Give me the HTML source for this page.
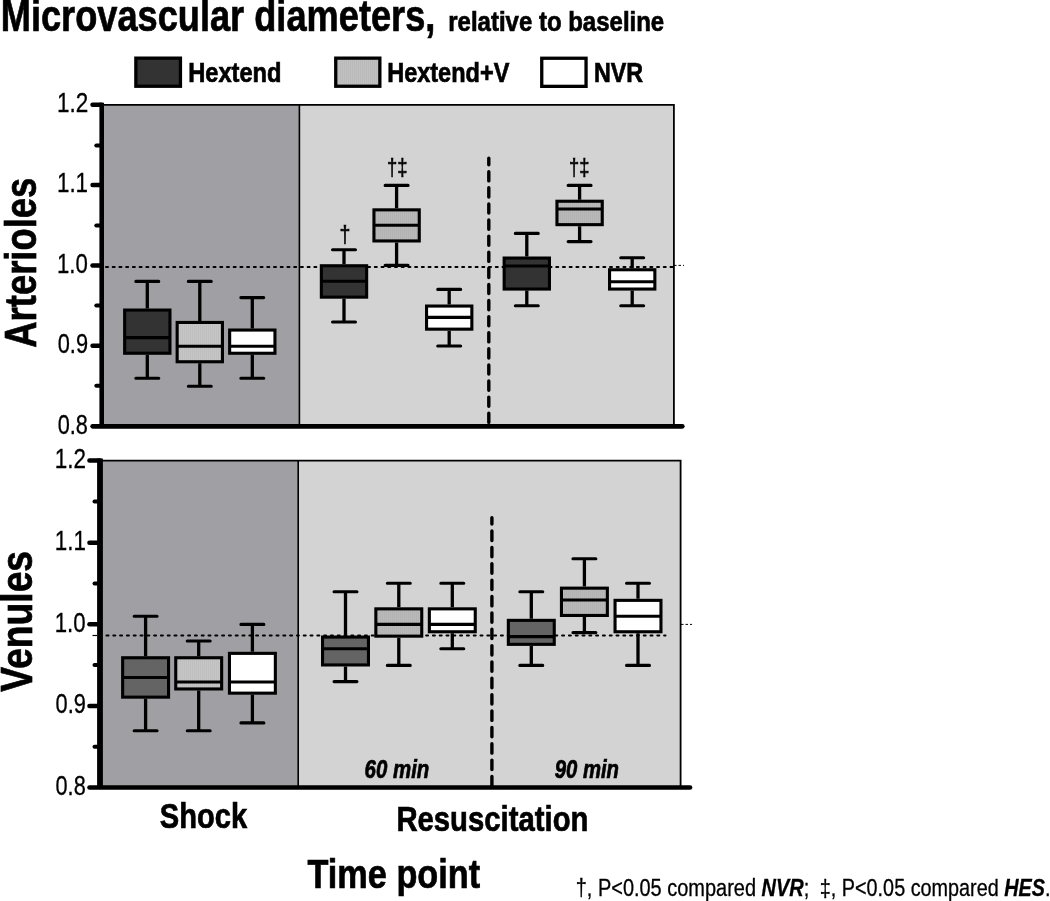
<!DOCTYPE html>
<html lang="en"><head><meta charset="utf-8"><title>Microvascular diameters</title>
<style>
html,body{margin:0;padding:0;background:#fff;}
body{width:1050px;height:901px;overflow:hidden;}
svg{display:block;font-family:"Liberation Sans", Arial, sans-serif;fill:#000;}
</style></head><body>
<svg width="1050" height="901" viewBox="0 0 1050 901">
<defs>
<pattern id="hv" width="2" height="2" patternUnits="userSpaceOnUse"><rect width="2" height="2" fill="#b9b9b9"/><rect width="1" height="2" fill="#b3b3b3"/></pattern>
<pattern id="hl" width="2" height="2" patternUnits="userSpaceOnUse"><rect width="2" height="2" fill="#c0c0c0"/><rect width="1" height="2" fill="#bababa"/></pattern>
<pattern id="hs" width="2" height="2" patternUnits="userSpaceOnUse"><rect width="2" height="2" fill="#c5c5c5"/><rect width="1" height="2" fill="#bfbfbf"/></pattern>
</defs>
<rect width="1050" height="901" fill="#fff"/>

<text transform="translate(0.73 31.1) scale(0.8156 1)" font-size="44.4" font-weight="bold" font-style="normal" stroke="#000" stroke-width="0.7" stroke-linejoin="miter" xml:space="preserve">Microvascular diameters,</text>
<text transform="translate(448.24 30.9) scale(0.8571 1)" font-size="28" font-weight="bold" font-style="normal" stroke="#000" stroke-width="0.7" stroke-linejoin="miter" xml:space="preserve">relative to baseline</text>
<rect x="135.85" y="58.15" width="44.60" height="28.10" fill="#333333" stroke="#000" stroke-width="3.3"/>
<rect x="335.75" y="58.15" width="44.10" height="28.10" fill="url(#hl)" stroke="#000" stroke-width="3.3"/>
<rect x="541.75" y="58.25" width="44.30" height="28.10" fill="#fff" stroke="#000" stroke-width="3.3"/>
<text transform="translate(188.16 82.1) scale(0.8454 1)" font-size="28.0" font-weight="bold" font-style="normal" stroke="#000" stroke-width="0.7" stroke-linejoin="miter" xml:space="preserve">Hextend</text>
<text transform="translate(387.17 82.1) scale(0.8398 1)" font-size="28.0" font-weight="bold" font-style="normal" stroke="#000" stroke-width="0.7" stroke-linejoin="miter" xml:space="preserve">Hextend+V</text>
<text transform="translate(593.98 82.1) scale(0.8310 1)" font-size="28.0" font-weight="bold" font-style="normal" stroke="#000" stroke-width="0.7" stroke-linejoin="miter" xml:space="preserve">NVR</text>
<rect x="103.5" y="104.9" width="195.89999999999998" height="321.1" fill="#a09fa3"/>
<rect x="299.4" y="104.9" width="374.5" height="321.1" fill="#d3d3d3"/>
<path d="M103.5 104.9H673.9V426" fill="none" stroke="#000" stroke-width="1.8"/>
<path d="M299.4 104.9V426" fill="none" stroke="#000" stroke-width="1.6"/>
<path d="M674 265.4H684" stroke="#000" stroke-width="1" stroke-dasharray="2.5 2" fill="none"/>
<path d="M106 266.9H673" stroke="#000" stroke-width="2" stroke-dasharray="2 4.72" stroke-linecap="round" fill="none"/>
<path d="M488.8 158.3V426" stroke="#000" stroke-width="3.4" stroke-dasharray="9.2 6.9" stroke-dashoffset="2.7" stroke-linecap="round" fill="none"/>
<path d="M147.3 281.4V308.5M147.3 354.8V378.2" stroke="#000" stroke-width="3.3000000000000003" fill="none"/>
<path d="M135.85 281.4H158.75M135.85 378.2H158.75" stroke="#000" stroke-width="3.1" stroke-linecap="round" fill="none"/>
<rect x="124.65" y="310.05" width="45.30" height="43.20" fill="#333333" stroke="#000" stroke-width="3.1"/>
<path d="M124.10 337.6H170.50" stroke="#000" stroke-width="3.1" fill="none"/>
<path d="M199.8 281.4V320.9M199.8 363.3V386.2" stroke="#000" stroke-width="3.3000000000000003" fill="none"/>
<path d="M188.35 281.4H211.25M188.35 386.2H211.25" stroke="#000" stroke-width="3.1" stroke-linecap="round" fill="none"/>
<rect x="177.15" y="322.45" width="45.30" height="39.30" fill="url(#hs)" stroke="#000" stroke-width="3.1"/>
<path d="M176.60 346.2H223.00" stroke="#000" stroke-width="3.1" fill="none"/>
<path d="M252.3 297.6V328.5M252.3 354.8V378.2" stroke="#000" stroke-width="3.3000000000000003" fill="none"/>
<path d="M240.85 297.6H263.75M240.85 378.2H263.75" stroke="#000" stroke-width="3.1" stroke-linecap="round" fill="none"/>
<rect x="229.65" y="330.05" width="45.30" height="23.20" fill="#fff" stroke="#000" stroke-width="3.1"/>
<path d="M229.10 346.2H275.50" stroke="#000" stroke-width="3.1" fill="none"/>
<path d="M344.0 249.8V264.2M344.0 298.7V322.0" stroke="#000" stroke-width="3.3000000000000003" fill="none"/>
<path d="M332.55 249.8H355.45M332.55 322.0H355.45" stroke="#000" stroke-width="3.1" stroke-linecap="round" fill="none"/>
<rect x="321.35" y="265.75" width="45.30" height="31.40" fill="#333333" stroke="#000" stroke-width="3.1"/>
<path d="M320.80 281.2H367.20" stroke="#000" stroke-width="3.1" fill="none"/>
<path d="M396.6 185.4V208.3M396.6 242.5V265.4" stroke="#000" stroke-width="3.3000000000000003" fill="none"/>
<path d="M385.15 185.4H408.05M385.15 265.4H408.05" stroke="#000" stroke-width="3.1" stroke-linecap="round" fill="none"/>
<rect x="373.95" y="209.85" width="45.30" height="31.10" fill="url(#hv)" stroke="#000" stroke-width="3.1"/>
<path d="M373.40 225.2H419.80" stroke="#000" stroke-width="3.1" fill="none"/>
<path d="M449.2 289.4V304.5M449.2 330.7V346.0" stroke="#000" stroke-width="3.3000000000000003" fill="none"/>
<path d="M437.75 289.4H460.65M437.75 346.0H460.65" stroke="#000" stroke-width="3.1" stroke-linecap="round" fill="none"/>
<rect x="426.55" y="306.05" width="45.30" height="23.10" fill="#fff" stroke="#000" stroke-width="3.1"/>
<path d="M426.00 317.4H472.40" stroke="#000" stroke-width="3.1" fill="none"/>
<path d="M526.8 233.4V256.5M526.8 290.6V305.7" stroke="#000" stroke-width="3.3000000000000003" fill="none"/>
<path d="M515.35 233.4H538.25M515.35 305.7H538.25" stroke="#000" stroke-width="3.1" stroke-linecap="round" fill="none"/>
<rect x="504.15" y="258.05" width="45.30" height="31.00" fill="#333333" stroke="#000" stroke-width="3.1"/>
<path d="M503.60 266.0H550.00" stroke="#000" stroke-width="3.1" fill="none"/>
<path d="M579.6 185.4V199.7M579.6 226.2V241.6" stroke="#000" stroke-width="3.3000000000000003" fill="none"/>
<path d="M568.15 185.4H591.05M568.15 241.6H591.05" stroke="#000" stroke-width="3.1" stroke-linecap="round" fill="none"/>
<rect x="556.95" y="201.25" width="45.30" height="23.40" fill="url(#hv)" stroke="#000" stroke-width="3.1"/>
<path d="M556.40 209.0H602.80" stroke="#000" stroke-width="3.1" fill="none"/>
<path d="M632.2 257.7V268.2M632.2 290.6V305.7" stroke="#000" stroke-width="3.3000000000000003" fill="none"/>
<path d="M620.75 257.7H643.65M620.75 305.7H643.65" stroke="#000" stroke-width="3.1" stroke-linecap="round" fill="none"/>
<rect x="609.55" y="269.75" width="45.30" height="19.30" fill="#fff" stroke="#000" stroke-width="3.1"/>
<path d="M609.00 281.7H655.40" stroke="#000" stroke-width="3.1" fill="none"/>
<path d="M101.7 102.7V426.3" stroke="#000" stroke-width="4.6" fill="none"/>
<path d="M92.64999999999999 426.3H682.3" stroke="#000" stroke-width="4.7" stroke-linecap="round" fill="none"/>
<path d="M92.55 104.7H101.7" stroke="#000" stroke-width="4.5" stroke-linecap="round" fill="none"/>
<path d="M92.55 185H101.7" stroke="#000" stroke-width="4.5" stroke-linecap="round" fill="none"/>
<path d="M92.55 265.6H101.7" stroke="#000" stroke-width="4.5" stroke-linecap="round" fill="none"/>
<path d="M92.55 345.7H101.7" stroke="#000" stroke-width="4.5" stroke-linecap="round" fill="none"/>
<path d="M96.3 145.6H101.7" stroke="#000" stroke-width="4" stroke-linecap="round" fill="none"/>
<path d="M96.3 225.6H101.7" stroke="#000" stroke-width="4" stroke-linecap="round" fill="none"/>
<path d="M96.3 305.6H101.7" stroke="#000" stroke-width="4" stroke-linecap="round" fill="none"/>
<path d="M96.3 385.8H101.7" stroke="#000" stroke-width="4" stroke-linecap="round" fill="none"/>
<text transform="translate(56.94 112.10000000000001) scale(0.8391 1)" font-size="26.8" font-weight="normal" font-style="normal" stroke="#000" stroke-width="0.3" stroke-linejoin="miter" xml:space="preserve">1.2</text>
<text transform="translate(56.95 192.4) scale(0.8359 1)" font-size="26.8" font-weight="normal" font-style="normal" stroke="#000" stroke-width="0.3" stroke-linejoin="miter" xml:space="preserve">1.1</text>
<text transform="translate(56.96 273.0) scale(0.8294 1)" font-size="26.8" font-weight="normal" font-style="normal" stroke="#000" stroke-width="0.3" stroke-linejoin="miter" xml:space="preserve">1.0</text>
<text transform="translate(57.75 353.09999999999997) scale(0.8136 1)" font-size="26.8" font-weight="normal" font-style="normal" stroke="#000" stroke-width="0.3" stroke-linejoin="miter" xml:space="preserve">0.9</text>
<text transform="translate(57.75 433.7) scale(0.8106 1)" font-size="26.8" font-weight="normal" font-style="normal" stroke="#000" stroke-width="0.3" stroke-linejoin="miter" xml:space="preserve">0.8</text>
<text transform="translate(339.57 243.3) scale(0.7960 1)" font-size="24.6" font-weight="normal" font-style="normal" stroke="#000" stroke-width="0.6" stroke-linejoin="miter" xml:space="preserve">†</text>
<text transform="translate(387.03 176.0) scale(0.7487 1)" font-size="24.6" font-weight="normal" font-style="normal" stroke="#000" stroke-width="0.6" stroke-linejoin="miter" xml:space="preserve">†‡</text>
<text transform="translate(569.03 176.0) scale(0.7447 1)" font-size="24.6" font-weight="normal" font-style="normal" stroke="#000" stroke-width="0.6" stroke-linejoin="miter" xml:space="preserve">†‡</text>
<rect x="102" y="460.7" width="196.2" height="326.8" fill="#a09fa3"/>
<rect x="298.2" y="460.7" width="382.40000000000003" height="326.8" fill="#d3d3d3"/>
<path d="M102 460.7H680.6V787.5" fill="none" stroke="#000" stroke-width="1.8"/>
<path d="M298.2 460.7V787.5" fill="none" stroke="#000" stroke-width="1.6"/>
<path d="M681 624.4H692" stroke="#000" stroke-width="1" stroke-dasharray="2.5 2" fill="none"/>
<path d="M92.5 635.5H97" stroke="#000" stroke-width="1.2" fill="none"/>
<path d="M106.5 635.5H665.5" stroke="#000" stroke-width="2" stroke-dasharray="2 4.8" stroke-linecap="round" fill="none"/>
<path d="M491.9 517.7V787" stroke="#000" stroke-width="3.4" stroke-dasharray="9.4 6.96" stroke-dashoffset="3" stroke-linecap="round" fill="none"/>
<path d="M145.6 616.2V656.2M145.6 698.7V730.7" stroke="#000" stroke-width="3.3000000000000003" fill="none"/>
<path d="M134.15 616.2H157.05M134.15 730.7H157.05" stroke="#000" stroke-width="3.1" stroke-linecap="round" fill="none"/>
<rect x="122.65" y="657.75" width="45.90" height="39.40" fill="#646464" stroke="#000" stroke-width="3.1"/>
<path d="M122.10 677.5H169.10" stroke="#000" stroke-width="3.1" fill="none"/>
<path d="M198.7 641.0V656.2M198.7 690.5V730.7" stroke="#000" stroke-width="3.3000000000000003" fill="none"/>
<path d="M187.25 641.0H210.15M187.25 730.7H210.15" stroke="#000" stroke-width="3.1" stroke-linecap="round" fill="none"/>
<rect x="175.75" y="657.75" width="45.90" height="31.20" fill="url(#hs)" stroke="#000" stroke-width="3.1"/>
<path d="M175.20 682.0H222.20" stroke="#000" stroke-width="3.1" fill="none"/>
<path d="M252.4 624.4V651.8M252.4 694.7V722.9" stroke="#000" stroke-width="3.3000000000000003" fill="none"/>
<path d="M240.95 624.4H263.85M240.95 722.9H263.85" stroke="#000" stroke-width="3.1" stroke-linecap="round" fill="none"/>
<rect x="229.45" y="653.35" width="45.90" height="39.80" fill="#fff" stroke="#000" stroke-width="3.1"/>
<path d="M228.90 682.0H275.90" stroke="#000" stroke-width="3.1" fill="none"/>
<path d="M345.5 591.7V635.5M345.5 666.5V681.6" stroke="#000" stroke-width="3.3000000000000003" fill="none"/>
<path d="M334.05 591.7H356.95M334.05 681.6H356.95" stroke="#000" stroke-width="3.1" stroke-linecap="round" fill="none"/>
<rect x="322.55" y="637.05" width="45.90" height="27.90" fill="#646464" stroke="#000" stroke-width="3.1"/>
<path d="M322.00 648.8H369.00" stroke="#000" stroke-width="3.1" fill="none"/>
<path d="M398.8 583.3V607.3M398.8 637.7V665.4" stroke="#000" stroke-width="3.3000000000000003" fill="none"/>
<path d="M387.35 583.3H410.25M387.35 665.4H410.25" stroke="#000" stroke-width="3.1" stroke-linecap="round" fill="none"/>
<rect x="375.85" y="608.85" width="45.90" height="27.30" fill="url(#hv)" stroke="#000" stroke-width="3.1"/>
<path d="M375.30 624.4H422.30" stroke="#000" stroke-width="3.1" fill="none"/>
<path d="M452.3 583.3V607.3M452.3 633.3V648.8" stroke="#000" stroke-width="3.3000000000000003" fill="none"/>
<path d="M440.85 583.3H463.75M440.85 648.8H463.75" stroke="#000" stroke-width="3.1" stroke-linecap="round" fill="none"/>
<rect x="429.35" y="608.85" width="45.90" height="22.90" fill="#fff" stroke="#000" stroke-width="3.1"/>
<path d="M428.80 624.4H475.80" stroke="#000" stroke-width="3.1" fill="none"/>
<path d="M531.3 591.7V618.8M531.3 645.9V665.4" stroke="#000" stroke-width="3.3000000000000003" fill="none"/>
<path d="M519.85 591.7H542.75M519.85 665.4H542.75" stroke="#000" stroke-width="3.1" stroke-linecap="round" fill="none"/>
<rect x="508.35" y="620.35" width="45.90" height="24.00" fill="#646464" stroke="#000" stroke-width="3.1"/>
<path d="M507.80 636.6H554.80" stroke="#000" stroke-width="3.1" fill="none"/>
<path d="M584.4 558.8V586.6M584.4 617.0V632.6" stroke="#000" stroke-width="3.3000000000000003" fill="none"/>
<path d="M572.95 558.8H595.85M572.95 632.6H595.85" stroke="#000" stroke-width="3.1" stroke-linecap="round" fill="none"/>
<rect x="561.45" y="588.15" width="45.90" height="27.30" fill="url(#hv)" stroke="#000" stroke-width="3.1"/>
<path d="M560.90 600.0H607.90" stroke="#000" stroke-width="3.1" fill="none"/>
<path d="M638.0 583.3V598.8M638.0 633.3V665.4" stroke="#000" stroke-width="3.3000000000000003" fill="none"/>
<path d="M626.55 583.3H649.45M626.55 665.4H649.45" stroke="#000" stroke-width="3.1" stroke-linecap="round" fill="none"/>
<rect x="615.05" y="600.35" width="45.90" height="31.40" fill="#fff" stroke="#000" stroke-width="3.1"/>
<path d="M614.50 616.2H661.50" stroke="#000" stroke-width="3.1" fill="none"/>
<path d="M100.0 458.40000000000003V787.5" stroke="#000" stroke-width="5.8" fill="none"/>
<path d="M89.55 787.5H690" stroke="#000" stroke-width="4.7" stroke-linecap="round" fill="none"/>
<path d="M89.45 460.6H100.0" stroke="#000" stroke-width="4.5" stroke-linecap="round" fill="none"/>
<path d="M89.45 542.7H100.0" stroke="#000" stroke-width="4.5" stroke-linecap="round" fill="none"/>
<path d="M89.45 624.3H100.0" stroke="#000" stroke-width="4.5" stroke-linecap="round" fill="none"/>
<path d="M89.45 705.9H100.0" stroke="#000" stroke-width="4.5" stroke-linecap="round" fill="none"/>
<path d="M94.5 501.6H100.0" stroke="#000" stroke-width="4" stroke-linecap="round" fill="none"/>
<path d="M94.5 583.5H100.0" stroke="#000" stroke-width="4" stroke-linecap="round" fill="none"/>
<path d="M94.5 665.1H100.0" stroke="#000" stroke-width="4" stroke-linecap="round" fill="none"/>
<path d="M94.5 746.7H100.0" stroke="#000" stroke-width="4" stroke-linecap="round" fill="none"/>
<text transform="translate(54.74 468.0) scale(0.8391 1)" font-size="26.8" font-weight="normal" font-style="normal" stroke="#000" stroke-width="0.3" stroke-linejoin="miter" xml:space="preserve">1.2</text>
<text transform="translate(54.75 550.1) scale(0.8359 1)" font-size="26.8" font-weight="normal" font-style="normal" stroke="#000" stroke-width="0.3" stroke-linejoin="miter" xml:space="preserve">1.1</text>
<text transform="translate(54.76 631.6999999999999) scale(0.8294 1)" font-size="26.8" font-weight="normal" font-style="normal" stroke="#000" stroke-width="0.3" stroke-linejoin="miter" xml:space="preserve">1.0</text>
<text transform="translate(55.55 713.3) scale(0.8136 1)" font-size="26.8" font-weight="normal" font-style="normal" stroke="#000" stroke-width="0.3" stroke-linejoin="miter" xml:space="preserve">0.9</text>
<text transform="translate(55.55 794.9) scale(0.8106 1)" font-size="26.8" font-weight="normal" font-style="normal" stroke="#000" stroke-width="0.3" stroke-linejoin="miter" xml:space="preserve">0.8</text>
<text transform="translate(364.56 778.4) scale(0.7983 1)" font-size="25.6" font-weight="bold" font-style="italic" stroke="#000" stroke-width="0.7" stroke-linejoin="miter" xml:space="preserve">60 min</text>
<text transform="translate(554.67 778.4) scale(0.7932 1)" font-size="25.6" font-weight="bold" font-style="italic" stroke="#000" stroke-width="0.7" stroke-linejoin="miter" xml:space="preserve">90 min</text>
<text transform="translate(35.8 347.73) rotate(-90) scale(0.8116 1)" font-size="44.9" font-weight="bold" font-style="normal" stroke="#000" stroke-width="0.7" stroke-linejoin="miter" xml:space="preserve">Arterioles</text>
<text transform="translate(32.3 691.70) rotate(-90) scale(0.8241 1)" font-size="45.2" font-weight="bold" font-style="normal" stroke="#000" stroke-width="0.7" stroke-linejoin="miter" xml:space="preserve">Venules</text>
<text transform="translate(159.72 827.6) scale(0.8276 1)" font-size="35.2" font-weight="bold" font-style="normal" stroke="#000" stroke-width="0.7" stroke-linejoin="miter" xml:space="preserve">Shock</text>
<text transform="translate(396.38 831.2) scale(0.8186 1)" font-size="35.8" font-weight="bold" font-style="normal" stroke="#000" stroke-width="0.7" stroke-linejoin="miter" xml:space="preserve">Resuscitation</text>
<text transform="translate(307.55 887.7) scale(0.8356 1)" font-size="41" font-weight="bold" font-style="normal" stroke="#000" stroke-width="0.7" stroke-linejoin="miter" xml:space="preserve">Time point</text>
<text transform="translate(575.73 895.8) scale(0.8567 1)" font-size="23.3" font-weight="normal" font-style="normal" stroke="#000" stroke-width="0.3" stroke-linejoin="miter" xml:space="preserve">†, P&lt;0.05 compared <tspan font-weight="bold" font-style="italic">NVR</tspan>;</text>
<text transform="translate(819.84 895.8) scale(0.8503 1)" font-size="23.3" font-weight="normal" font-style="normal" stroke="#000" stroke-width="0.3" stroke-linejoin="miter" xml:space="preserve">‡, P&lt;0.05 compared <tspan font-weight="bold" font-style="italic">HES</tspan>.</text>
</svg></body></html>
